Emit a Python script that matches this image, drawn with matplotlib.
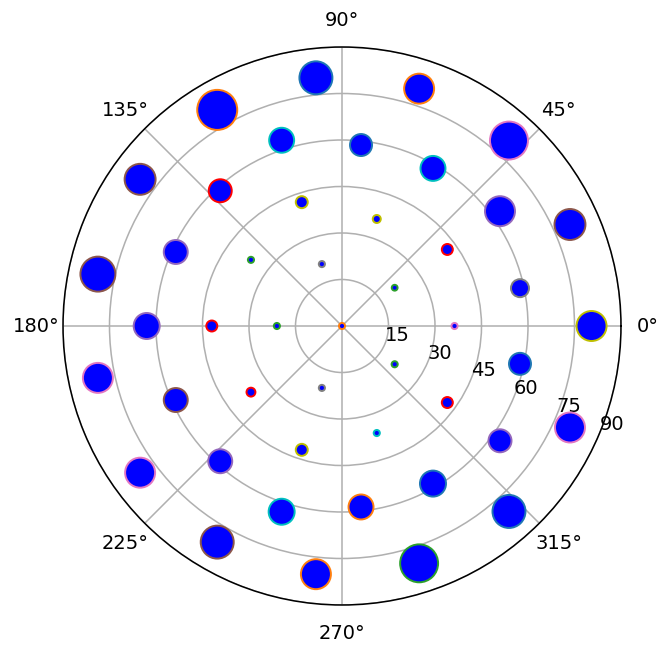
import numpy as np
import matplotlib
matplotlib.use("Agg")
import matplotlib.pyplot as plt

# polar positions (degrees / radius), marker areas and edge colours, ring by ring
theta_deg = [0,
             36, 108, 180, 252, 324,
             0, 36, 72, 108, 144, 180, 216, 252, 288, 324,
             12, 36, 60, 84, 108, 132, 156, 180, 204, 228, 252, 276, 300, 324, 348,
             0, 24, 48, 72, 96, 120, 144, 168, 192, 216, 240, 264, 288, 312, 336]
radius = [0,
          21, 21, 21, 21, 21,
          36.3, 42, 36.3, 42, 36.3, 42, 36.3, 42, 36.3, 42,
          58.7, 63, 58.7, 58.7, 63, 58.7, 58.7, 63, 58.7, 58.7, 63, 58.7, 58.7, 63, 58.7,
          80.5, 80.5, 80.5, 80.5, 80.5, 80.5, 80.5, 80.5, 80.5, 80.5, 80.5, 80.5, 80.5, 80.5, 80.5]
sizes = [10,
         9, 10, 10, 10, 10,
         10, 32, 17, 38, 10, 32, 21, 38, 10, 32,
         86, 238, 165, 128, 165, 140, 152, 179, 152, 152, 179, 165, 179, 140, 128,
         238, 254, 381, 238, 288, 424, 254, 324, 238, 238, 288, 238, 381, 288, 238]
edges = ['tab:orange',
         'tab:green', 'gray', 'tab:green', 'gray', 'tab:green',
         'tab:pink', 'red', 'y', 'y', 'tab:green', 'red', 'red', 'y', 'c', 'red',
         'gray', 'tab:purple', 'c', 'tab:blue', 'c', 'red', 'tab:purple', 'tab:purple',
         'tab:brown', 'tab:purple', 'c', 'tab:orange', 'tab:blue', 'tab:purple', 'tab:blue',
         'y', 'tab:brown', 'tab:pink', 'tab:orange', 'tab:blue', 'tab:orange', 'tab:brown',
         'tab:brown', 'tab:pink', 'tab:pink', 'tab:brown', 'tab:orange', 'tab:green',
         'tab:blue', 'tab:pink']

fig = plt.figure(figsize=(658 / 140, 647 / 140), dpi=140)
ax = fig.add_axes([63 / 658, 41 / 647, 558 / 658, 558 / 647], projection='polar')

ax.scatter(np.radians(theta_deg), radius, s=sizes, c='blue', edgecolors=edges, zorder=3)

ax.set_rmax(90)
ax.set_rticks([15, 30, 45, 60, 75, 90])
ax.set_rlabel_position(-22.5)

fig.savefig('out.png', dpi=140)
